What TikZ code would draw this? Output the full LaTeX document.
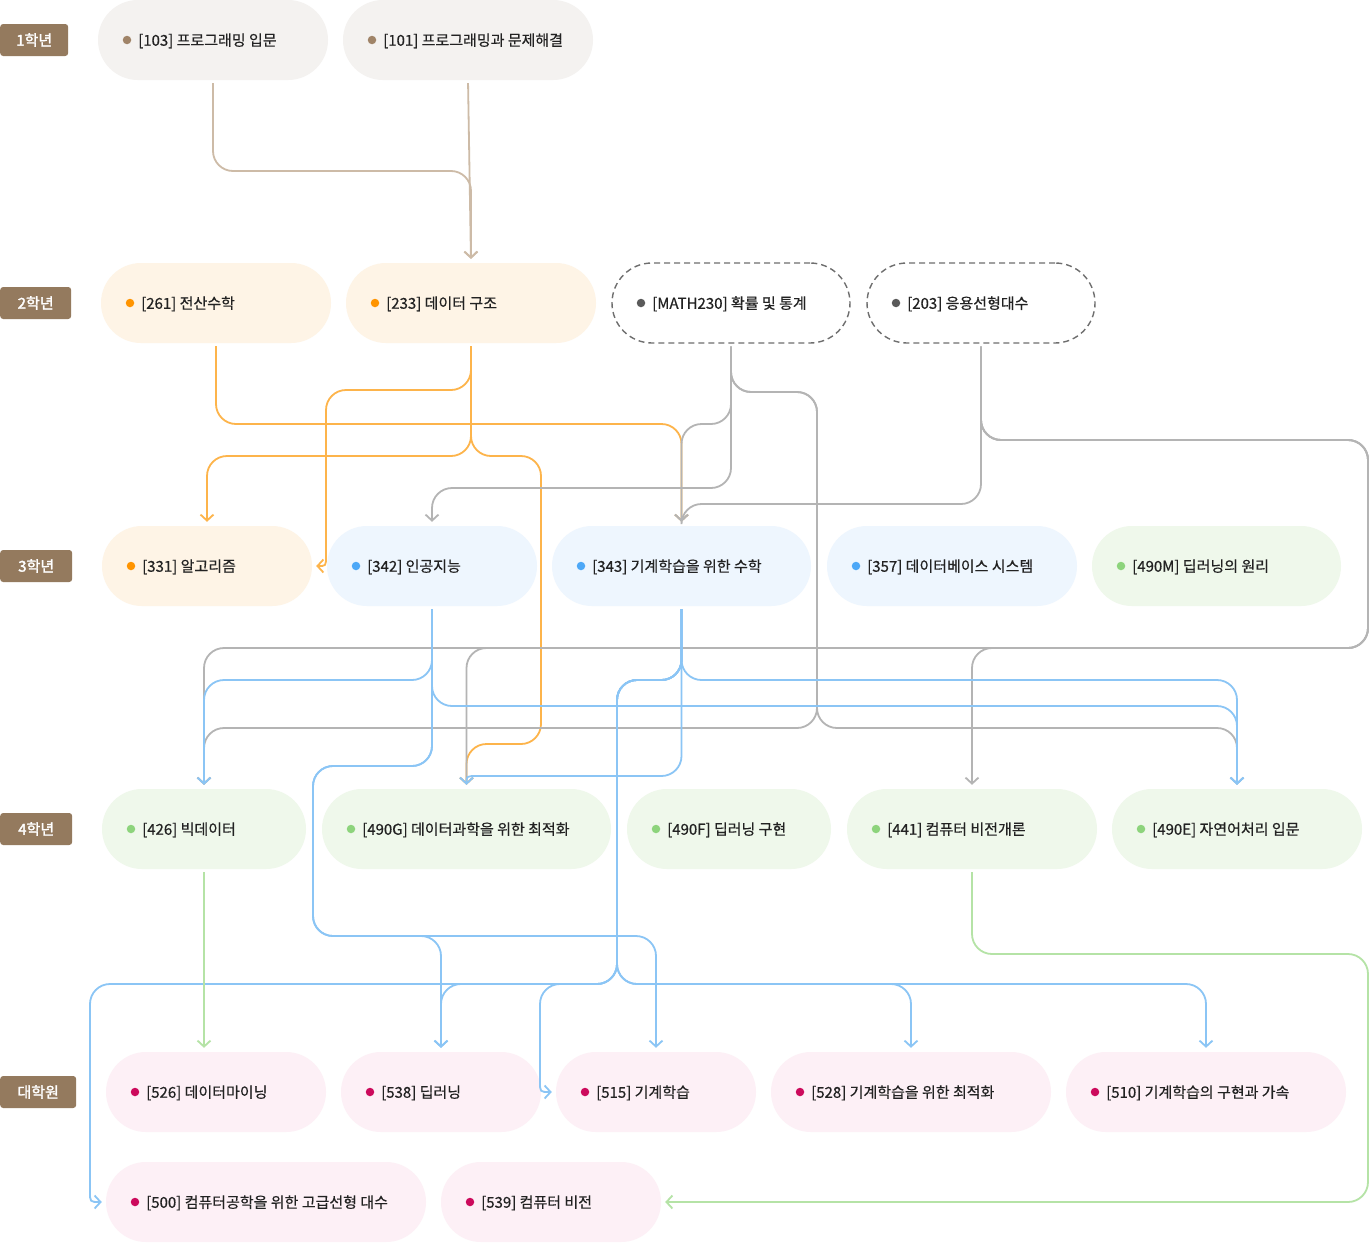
\documentclass[tikz,border=0pt]{standalone}
\usepackage{fontspec}
\setmainfont{Noto Sans CJK KR}[FakeBold=0.5]
\newfontfamily\yrfont{Noto Sans CJK KR}[FakeBold=2]
\usetikzlibrary{arrows.meta}
\definecolor{ctan}{HTML}{CDBBA7}
\definecolor{corange}{HTML}{FDB44B}
\definecolor{cgray}{HTML}{B4B4B4}
\definecolor{cblue}{HTML}{8BC5F5}
\definecolor{cgreen}{HTML}{B5E3A6}
\definecolor{fillA}{HTML}{F4F2F0}
\definecolor{fillB}{HTML}{FEF4E6}
\definecolor{fillC}{HTML}{EEF6FE}
\definecolor{fillD}{HTML}{EFF8EB}
\definecolor{fillE}{HTML}{FDF0F6}
\definecolor{dotA}{HTML}{A08468}
\definecolor{dotB}{HTML}{FF9400}
\definecolor{dotC}{HTML}{5A5A5A}
\definecolor{dotD}{HTML}{4DA8F7}
\definecolor{dotE}{HTML}{8DD47C}
\definecolor{dotF}{HTML}{CC0A5C}
\definecolor{labelbrown}{HTML}{947A5E}
\definecolor{dashc}{HTML}{6E6E6E}
\definecolor{txt}{HTML}{222222}
\newcommand\mkcourse[7]{%
  \node[pill, #5, minimum width={(#3-#2)*1pt}] (#1) at ({(#2+#3)/2},#4) {};
  \fill[#6] ({#2+29},#4) circle[radius=4.25pt];
  \node[lbl, anchor=west] (#1t) at ({#2+40},{#4+0.8}) {#7};
}
\begin{document}
\begin{tikzpicture}[x=1pt,y=-1pt,
  pill/.style={rectangle, rounded corners=40pt, minimum height=80pt, inner sep=0pt},
  pA/.style={fill=fillA}, pB/.style={fill=fillB}, pC/.style={fill=fillC},
  pD/.style={fill=fillD}, pE/.style={fill=fillE},
  pdash/.style={fill=white, draw=dashc, line width=1.4pt, dash pattern=on 6pt off 4pt},
  lbl/.style={font=\fontsize{15pt}{17pt}\selectfont, text=txt, inner sep=0pt},
  yr/.style={fill=labelbrown, text=white, rounded corners=3pt, minimum height=32pt,
    inner sep=0pt, font=\yrfont\fontsize{15pt}{17pt}\selectfont, anchor=west},
  conn/.style={line width=1.8pt, rounded corners=20pt,
    -{Straight Barb[length=6pt,width=13pt,line width=1.8pt]}, shorten <=3pt, shorten >=4pt},
  tanc/.style={conn, draw=ctan},
  orc/.style={conn, draw=corange},
  grc/.style={conn, draw=cgray},
  blc/.style={conn, draw=cblue},
  grn/.style={conn, draw=cgreen}]
\useasboundingbox (0,0) rectangle (1370,1242);
\fill[white] (0,0) rectangle (1370,1242);

% year labels
\node[yr, minimum width=68pt] (y1) at (0,40) {1학년};
\node[yr, minimum width=71pt] (y2) at (0,303) {2학년};
\node[yr, minimum width=72pt] (y3) at (0,566) {3학년};
\node[yr, minimum width=72pt] (y4) at (0,829) {4학년};
\node[yr, minimum width=76pt] (y5) at (0,1092) {대학원};

% row 1
\mkcourse{n103}{98}{328}{40}{pA}{dotA}{[103] 프로그래밍 입문}
\mkcourse{n101}{343}{593}{40}{pA}{dotA}{[101] 프로그래밍과 문제해결}
% row 2
\mkcourse{n261}{101}{331}{303}{pB}{dotB}{[261] 전산수학}
\mkcourse{n233}{346}{596}{303}{pB}{dotB}{[233] 데이터 구조}
\mkcourse{nM}{612}{850}{303}{pdash}{dotC}{[MATH230] 확률 및 통계}
\mkcourse{n203}{867}{1095}{303}{pdash}{dotC}{[203] 응용선형대수}
% row 3
\mkcourse{n331}{102}{312}{566}{pB}{dotB}{[331] 알고리즘}
\mkcourse{n342}{327}{537}{566}{pC}{dotD}{[342] 인공지능}
\mkcourse{n343}{552}{811}{566}{pC}{dotD}{[343] 기계학습을 위한 수학}
\mkcourse{n357}{827}{1077}{566}{pC}{dotD}{[357] 데이터베이스 시스템}
\mkcourse{n490M}{1092}{1341}{566}{pD}{dotE}{[490M] 딥러닝의 원리}
% row 4
\mkcourse{n426}{102}{306}{829}{pD}{dotE}{[426] 빅데이터}
\mkcourse{n490G}{322}{611}{829}{pD}{dotE}{[490G] 데이터과학을 위한 최적화}
\mkcourse{n490F}{627}{831}{829}{pD}{dotE}{[490F] 딥러닝 구현}
\mkcourse{n441}{847}{1097}{829}{pD}{dotE}{[441] 컴퓨터 비전개론}
\mkcourse{n490E}{1112}{1362}{829}{pD}{dotE}{[490E] 자연어처리 입문}
% row 5
\mkcourse{n526}{106}{326}{1092}{pE}{dotF}{[526] 데이터마이닝}
\mkcourse{n538}{341}{541}{1092}{pE}{dotF}{[538] 딥러닝}
\mkcourse{n515}{556}{756}{1092}{pE}{dotF}{[515] 기계학습}
\mkcourse{n528}{771}{1051}{1092}{pE}{dotF}{[528] 기계학습을 위한 최적화}
\mkcourse{n510}{1066}{1346}{1092}{pE}{dotF}{[510] 기계학습의 구현과 가속}
% row 6
\mkcourse{n500}{106}{426}{1202}{pE}{dotF}{[500] 컴퓨터공학을 위한 고급선형 대수}
\mkcourse{n539}{441}{661}{1202}{pE}{dotF}{[539] 컴퓨터 비전}

% tan connectors
\draw[tanc] (n103.south) -- (n103.south |- 0,171) -- (n233.north |- 0,171) -- (n233.north);
\draw[tanc] (n101.south) -- (n233.north);

% orange connectors
\draw[orc] (n261.south) -- (n261.south |- 0,424) -- (n343.north |- 0,424) -- (n343.north);
\draw[orc] (n233.south) -- (n233.south |- 0,390) -- (326,390) [sharp corners] -- (326,556) .. controls (326,566) .. (n331.east);
\draw[orc] (n233.south) -- (n233.south |- 0,456) -- (n331.north |- 0,456) -- (n331.north);
\draw[orc] (n233.south) -- (n233.south |- 0,456) -- (541,456) -- (541,744) -- (n490G.north |- 0,744) -- (n490G.north);

% gray connectors
\draw[grc] (nM.south) -- (nM.south |- 0,392) -- (817,392) -- (817,728) -- (n426.north |- 0,728) -- (n426.north);
\draw[grc] (nM.south) -- (nM.south |- 0,392) -- (817,392) -- (817,728) -- (n490E.north |- 0,728) -- (n490E.north);
\draw[grc] (nM.south) -- (nM.south |- 0,424) -- (n343.north |- 0,424) -- (n343.north);
\draw[grc] (nM.south) -- (nM.south |- 0,488) -- (n342.north |- 0,488) -- (n342.north);
\draw[grc] (n203.south) -- (n203.south |- 0,504) -- (n343.north |- 0,504) -- (n343.north);
\draw[grc] (n203.south) -- (n203.south |- 0,440) -- (1368,440) -- (1368,648) -- (n441.north |- 0,648) -- (n441.north);
\draw[grc] (n203.south) -- (n203.south |- 0,440) -- (1368,440) -- (1368,648) -- (n426.north |- 0,648) -- (n426.north);
\draw[grc] (n203.south) -- (n203.south |- 0,440) -- (1368,440) -- (1368,648) -- (n490G.north |- 0,648) -- (n490G.north);

% blue connectors
\draw[blc] (n342.south) -- (n342.south |- 0,680) -- (n426.north |- 0,680) -- (n426.north);
\draw[blc] (n342.south) -- (n342.south |- 0,706) -- (n490E.north |- 0,706) -- (n490E.north);
\draw[blc] (n342.south) -- (n342.south |- 0,766) -- (313,766) -- (313,936) -- (n538.north |- 0,936) -- (n538.north);
\draw[blc] (n342.south) -- (n342.south |- 0,766) -- (313,766) -- (313,936) -- (n515.north |- 0,936) -- (n515.north);
\draw[blc] (n343.south) -- (n343.south |- 0,680) -- (617,680) -- (617,984) -- (90,984) [sharp corners] -- (90,1192) .. controls (90,1202) .. (n500.west);
\draw[blc] (n343.south) -- (n343.south |- 0,680) -- (617,680) -- (617,984) -- (n538.north |- 0,984) -- (n538.north);
\draw[blc] (n343.south) -- (n343.south |- 0,680) -- (617,680) -- (617,984) -- (540,984) [sharp corners] -- (540,1082) .. controls (540,1092) .. (n515.west);
\draw[blc] (n343.south) -- (n343.south |- 0,680) -- (617,680) -- (617,984) -- (n528.north |- 0,984) -- (n528.north);
\draw[blc] (n343.south) -- (n343.south |- 0,680) -- (617,680) -- (617,984) -- (n510.north |- 0,984) -- (n510.north);
\draw[blc] (n343.south) -- (n343.south |- 0,680) -- (n490E.north |- 0,680) -- (n490E.north);
\draw[blc] (n343.south) -- (n343.south |- 0,776) [sharp corners] -- (478,776) .. controls (n490G.north |- 0,776) .. (n490G.north);

% green connectors
\draw[grn] (n426.south) -- (n426.south |- n526.north);
\draw[grn] (n441.south) -- (n441.south |- 0,954) -- (1368,954) -- (1368,1202) -- (n539.east);
\end{tikzpicture}
\end{document}
